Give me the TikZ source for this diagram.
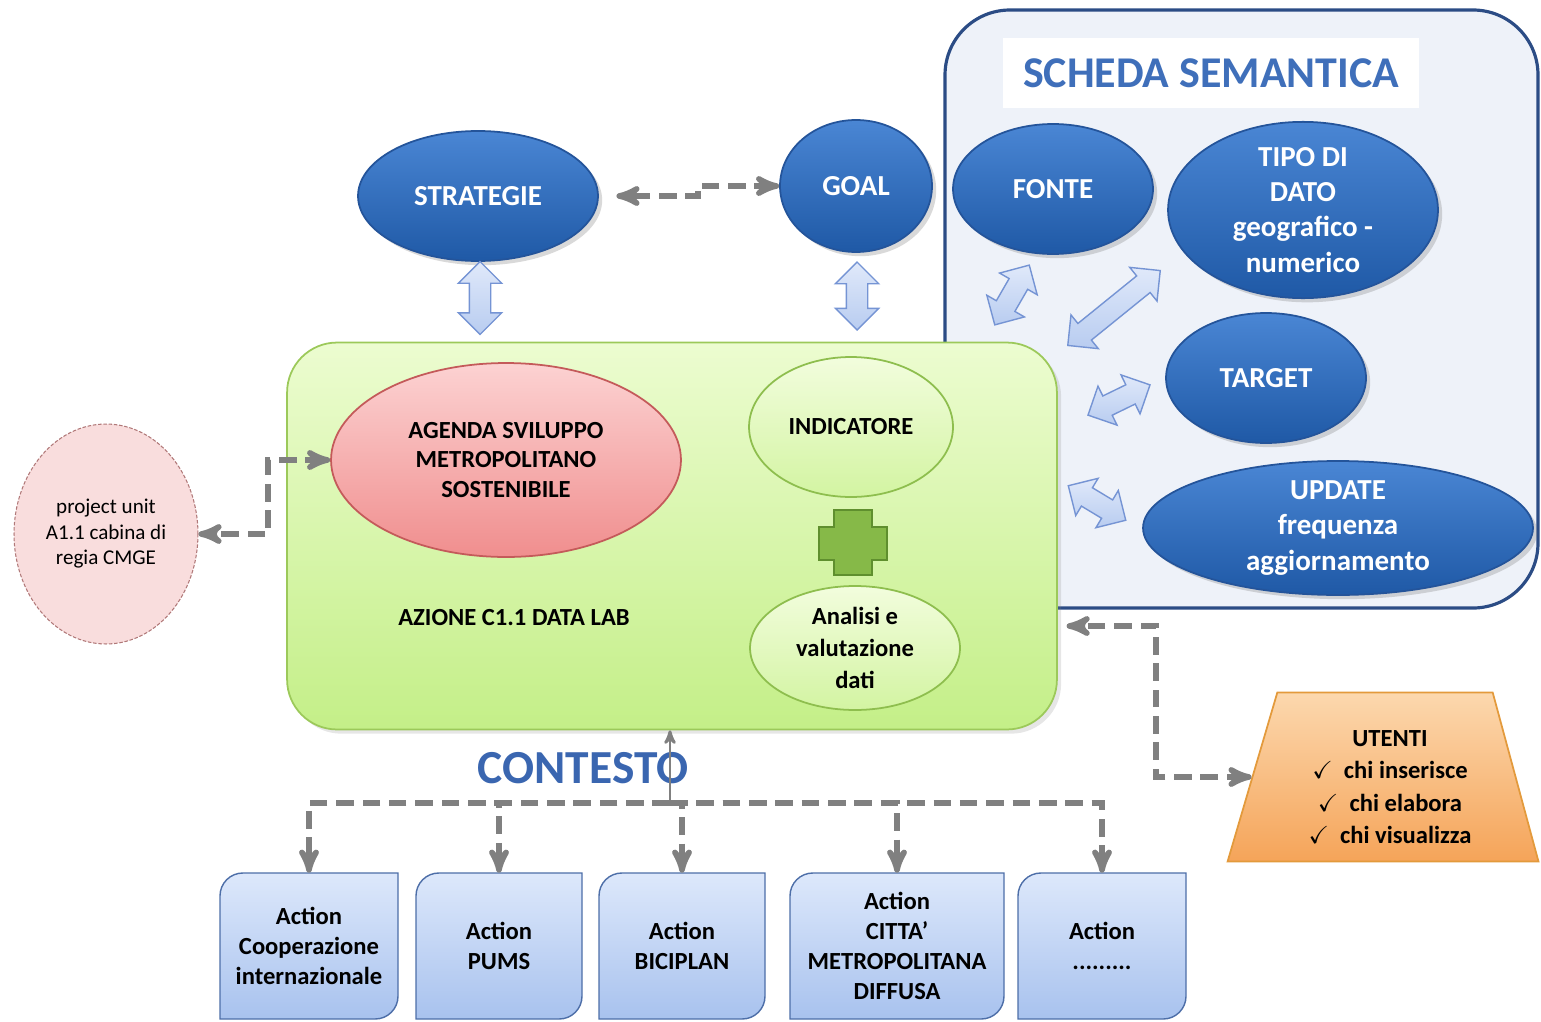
\documentclass[tikz,border=0pt]{standalone}
\usepackage{amssymb}
\usepackage{fontspec}
\setmainfont{Carlito}
\usetikzlibrary{calc}
\usetikzlibrary{arrows}
\usetikzlibrary{shapes.geometric,shapes.arrows}
\usetikzlibrary{shadows}

\definecolor{bluetop}{HTML}{4A86D4}
\definecolor{bluebot}{HTML}{1F59A6}
\definecolor{blueedge}{HTML}{24549A}
\definecolor{panelfill}{HTML}{EEF2F9}
\definecolor{paneledge}{HTML}{2B4C85}
\definecolor{titleblue}{HTML}{3F6FBA}
\definecolor{labtop}{HTML}{ECFCD0}
\definecolor{labbot}{HTML}{C4EF88}
\definecolor{labedge}{HTML}{9CC95A}
\definecolor{lgtop}{HTML}{F2FDDD}
\definecolor{lgbot}{HTML}{D3F4A2}
\definecolor{lgedge}{HTML}{8EBE4E}
\definecolor{redtop}{HTML}{FCD2D2}
\definecolor{redbot}{HTML}{F08E8E}
\definecolor{rededge}{HTML}{C45A5A}
\definecolor{pinkfill}{HTML}{F9DDDD}
\definecolor{pinkedge}{HTML}{B07878}
\definecolor{arrtop}{HTML}{E0E9FA}
\definecolor{arrbot}{HTML}{B8CCF0}
\definecolor{arredge}{HTML}{7594D4}
\definecolor{acttop}{HTML}{DDE8FB}
\definecolor{actbot}{HTML}{A8C2EE}
\definecolor{actedge}{HTML}{4D6EA8}
\definecolor{orgtop}{HTML}{FCD8AE}
\definecolor{orgbot}{HTML}{F5A459}
\definecolor{orgedge}{HTML}{E39A3C}
\definecolor{plusfill}{HTML}{86B948}
\definecolor{plusedge}{HTML}{5F8F2E}
\definecolor{linegray}{HTML}{808080}
\definecolor{contestoblue}{HTML}{3A66B0}

\begin{document}
\begin{tikzpicture}[x=0.02cm, y=-0.02cm,
  blueball/.style={ellipse, draw=blueedge, line width=1pt, top color=bluetop, bottom color=bluebot,
    text=white, align=center, inner sep=0pt, font=\fontsize{16.5}{20}\selectfont\bfseries,
    drop shadow={opacity=0.3}},
  greenball/.style={ellipse, draw=lgedge, line width=1pt, top color=lgtop, bottom color=lgbot,
    align=center, inner sep=0pt, font=\fontsize{14}{18}\selectfont\bfseries},
  dblarrow/.style={double arrow, draw=arredge, line width=0.8pt, top color=arrtop, bottom color=arrbot,
    inner xsep=0pt, inner ysep=0.2cm, double arrow head extend=0.22cm},
  actbox/.style={draw=actedge, line width=0.8pt, top color=acttop, bottom color=actbot},
  acttext/.style={minimum height=2.92cm, inner sep=0pt, align=center, font=\fontsize{14}{17}\selectfont\bfseries},
  dashlink/.style={draw=linegray, line width=3.2pt, dash pattern=on 10pt off 5pt, >=stealth'},
  uplink/.style={draw=linegray, line width=1.6pt, >=stealth'}
]
\useasboundingbox (0,0) rectangle (1541,1021);

% scheda semantica
\draw[draw=paneledge, line width=1.8pt, fill=panelfill, rounded corners=1.3cm] (945,10) rectangle (1538,608);
\node[fill=white, minimum width=8.34cm, minimum height=1.42cm, text=titleblue,
  font=\fontsize{25}{30}\selectfont\bfseries] (title) at (1211,73) {SCHEDA SEMANTICA};

\node[blueball, minimum width=4.8cm, minimum height=2.6cm] (strat) at (478,196) {STRATEGIE};
\node[blueball, minimum width=3.04cm, minimum height=2.64cm] (goal) at (856,186) {GOAL};
\node[blueball, minimum width=4cm, minimum height=2.6cm] (fonte) at (1053,189) {FONTE};
\node[blueball, minimum width=5.4cm, minimum height=3.2cm] (tipo) at (1303,210) {TIPO DI\\DATO\\geografico -\\numerico};
\node[blueball, minimum width=4cm, minimum height=2.6cm] (target) at (1266,378) {TARGET};
\node[blueball, minimum width=7.8cm, minimum height=2.68cm] (update) at (1338,528) {UPDATE\\frequenza\\aggiornamento};

% data lab
\node[draw=labedge, line width=1pt, top color=labtop, bottom color=labbot, rounded corners=1cm,
  minimum width=15.4cm, minimum height=7.74cm, drop shadow={opacity=0.2}] (lab) at (672,536) {};
\node[ellipse, draw=rededge, line width=1pt, top color=redtop, bottom color=redbot, align=center, inner sep=0pt,
  minimum width=7cm, minimum height=3.88cm, font=\fontsize{14}{17}\selectfont\bfseries]
  (agenda) at (506,460) {AGENDA SVILUPPO\\METROPOLITANO\\SOSTENIBILE};
\node[greenball, minimum width=4.08cm, minimum height=2.8cm] (indic) at (851,427) {INDICATORE};
\node[greenball, minimum width=4.2cm, minimum height=2.48cm] (analisi) at (855,648) {Analisi e\\valutazione\\dati};
\node[font=\fontsize{14}{17}\selectfont\bfseries] (labtxt) at (514,618) {AZIONE C1.1 DATA LAB};
\draw[fill=plusfill, draw=plusedge, line width=1pt] (834,510) -- (872,510) -- (872,527) -- (887,527) -- (887,560)
  -- (872,560) -- (872,575) -- (834,575) -- (834,560) -- (819,560) -- (819,527) -- (834,527) -- cycle;

% double arrows
\node[dblarrow, minimum height=1.46cm, rotate=90] (ar1) at (480,298) {};
\node[dblarrow, minimum height=1.36cm, rotate=90] (ar2) at (857,296) {};
\node[dblarrow, minimum height=1.38cm, rotate=60] (ar3) at (1012,295) {};
\node[dblarrow, minimum height=2.38cm, rotate=39] (ar4) at (1114,308) {};
\node[dblarrow, minimum height=1.38cm, rotate=26] (ar5) at (1119,400) {};
\node[dblarrow, minimum height=1.34cm, rotate=-31] (ar6) at (1097,503) {};

% project unit
\node[ellipse, draw=pinkedge, line width=0.6pt, dash pattern=on 2pt off 1pt, fill=pinkfill, align=center,
  inner sep=0pt, minimum width=3.68cm, minimum height=4.4cm, font=\fontsize{12}{14.5}\selectfont]
  (proj) at (106,534) {project unit\\A1.1 cabina di\\regia CMGE};

% utenti
\node[trapezium, trapezium left angle=77, trapezium right angle=78, trapezium stretches=true,
  draw=orgedge, line width=1pt, top color=orgtop, bottom color=orgbot, minimum width=6.22cm,
  minimum height=3.38cm] (utenti) at (1385,777) {};
\node[align=center, font=\fontsize{14}{18.5}\selectfont\bfseries] (utxt) at (1390,787)
  {UTENTI\\$\checkmark$\ \ chi inserisce\\$\checkmark$\ \ chi elabora\\$\checkmark$\ \ chi visualizza};

% actions
\foreach \n/\x/\w/\t in {a1/309/178/{Action\\Cooperazione\\internazionale}, a2/499/166/{Action\\PUMS},
  a3/682/166/{Action\\BICIPLAN}, a4/897/214/{Action\\CITTA’\\METROPOLITANA\\DIFFUSA}, a5/1102/168/{Action\\.........}} {
 \draw[actbox] (\x-\w/2,946) [rounded corners=13pt] -- (\x-\w/2,873) [sharp corners] -- (\x+\w/2,873)
   [rounded corners=13pt] -- (\x+\w/2,1019) [sharp corners] -- (\x-\w/2,1019) -- cycle;
 \node[acttext] (\n) at (\x,946) {\t};
}

\node[text=contestoblue, font=\fontsize{27}{30}\selectfont\bfseries] (contesto) at (583,768) {CONTESTO};

% connectors
\draw[dashlink, <->, shorten >=10pt] (goal.west) -- (698,186) |- (strat.east);
\draw[dashlink, <->] (agenda.west) -- (268,460) |- (proj.east);
\draw[dashlink, <->] (utenti.west) -| (1156,626) -- ([xshift=5pt]lab.east |- 1156,626);
\coordinate (hub) at (670,803);
\draw[uplink, ->] (hub) -- (hub |- lab.south);
\foreach \n in {a1,a2,a3,a4,a5} {
 \draw[dashlink, ->] (hub) -| (\n.north);
}
\end{tikzpicture}
\end{document}
